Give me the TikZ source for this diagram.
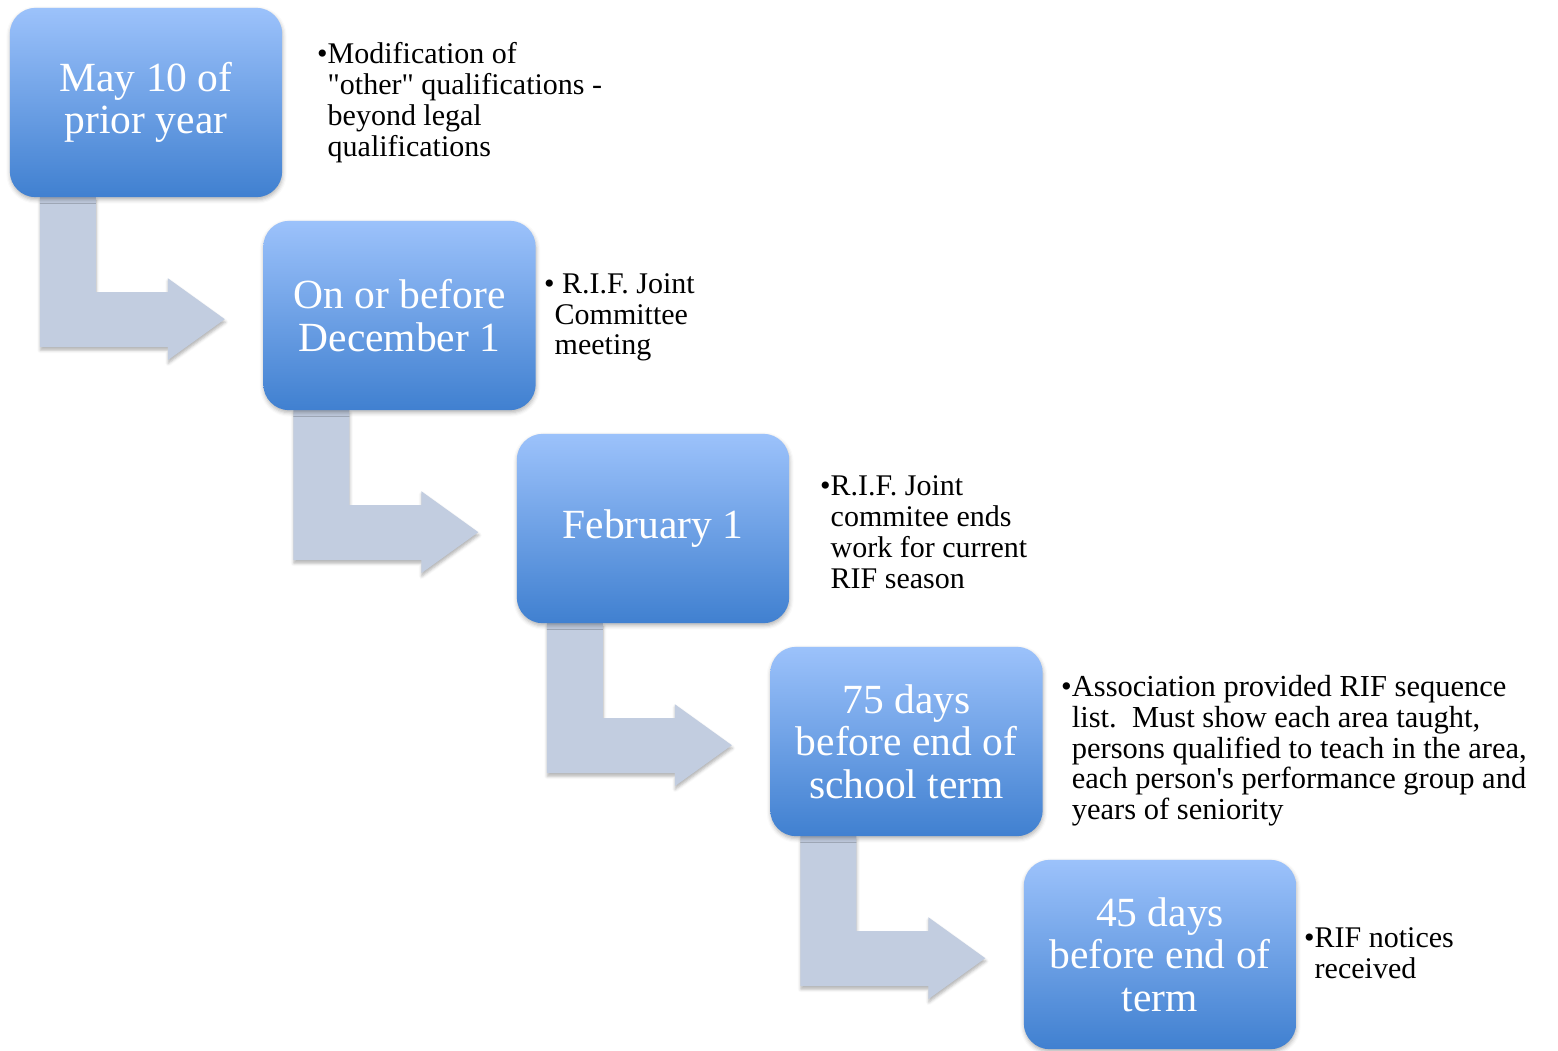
\documentclass[tikz,border=0pt]{standalone}
\usepackage{fontspec}
\setmainfont{Liberation Serif}
\usetikzlibrary{shadows,shadows.blur,calc,backgrounds}
\definecolor{boxtop}{RGB}{156,194,251}
\definecolor{boxbot}{RGB}{64,128,208}
\definecolor{arrowfill}{RGB}{194,205,224}
\tikzset{
  datebox/.style={minimum width=272pt, minimum height=189pt,
    text=white, align=center,
    font=\fontsize{41.5}{42.5}\selectfont, inner sep=0pt},
  boxshade/.style={rounded corners=26pt, top color=boxtop, bottom color=boxbot,
    blur shadow={shadow xshift=0.5pt, shadow yshift=-2.5pt, shadow blur radius=4pt, shadow opacity=30}},
  desc/.style={anchor=west, inner sep=0pt, align=left, font=\fontsize{30}{30.8}\selectfont},
  bentarrow/.pic={
    \fill[arrowfill, blur shadow={shadow xshift=0.5pt, shadow yshift=-3pt, shadow blur radius=3pt, shadow opacity=30}]
      (30,0) -- (86,0) -- (86,95) -- (158,95) -- (158,81) -- (215,122)
      -- (158,163) -- (158,150) -- (30,150) -- cycle;
  }
}
\begin{document}
\begin{tikzpicture}[x=1pt,y=-1pt]
\useasboundingbox (0,0) rectangle (1558,1050);
\coordinate (c1) at (146,102.5);
\coordinate (c2) at (399.5,315.5);
\coordinate (c3) at (653,528.5);
\coordinate (c4) at (906.5,741.5);
\coordinate (c5) at (1160,954.5);
\node[datebox] (b1) at (c1) {May 10 of\\prior year};
\node[datebox] (b2) at (c2) {On or before\\December 1};
\node[datebox] (b3) at (c3) {February 1};
\node[datebox] (b4) at (c4) {75 days\\before end of\\school term};
\node[datebox] (b5) at (c5) {45 days\\before end of\\term};
\begin{scope}[on background layer]
  \foreach \i in {1,2,3,4}{
    \path (b\i.south west) pic {bentarrow};
  }
  \foreach \i in {1,...,5}{
    \shade[boxshade] (b\i.west) |- (b\i.north east) |- (b\i.south west) -- cycle;
  }
\end{scope}
\node[desc] (d1) at (317,104) {\begin{tabular}{@{}l@{}l@{}}\textbullet&Modification of\\&\textquotedbl other\textquotedbl{} qualifications -\\&beyond legal\\&qualifications\end{tabular}};
\node[desc] (d2) at (544,318) {\begin{tabular}{@{}l@{}l@{}}\textbullet&\hspace*{0.25em}R.I.F. Joint\\&Committee\\&meeting\end{tabular}};
\node[desc] (d3) at (820,536) {\begin{tabular}{@{}l@{}l@{}}\textbullet&R.I.F. Joint\\&commitee ends\\&work for current\\&RIF season\end{tabular}};
\node[desc, font=\fontsize{30.5}{30.8}\selectfont] (d4) at (1061,752) {\begin{tabular}{@{}l@{}l@{}}\textbullet&Association provided RIF sequence\\&list.\ \ Must show each area taught,\\&persons qualified to teach in the area,\\&each person\textquotesingle s performance group and\\&years of seniority\end{tabular}};
\node[desc] (d5) at (1304,957) {\begin{tabular}{@{}l@{}l@{}}\textbullet&RIF notices\\&received\end{tabular}};
\end{tikzpicture}
\end{document}
